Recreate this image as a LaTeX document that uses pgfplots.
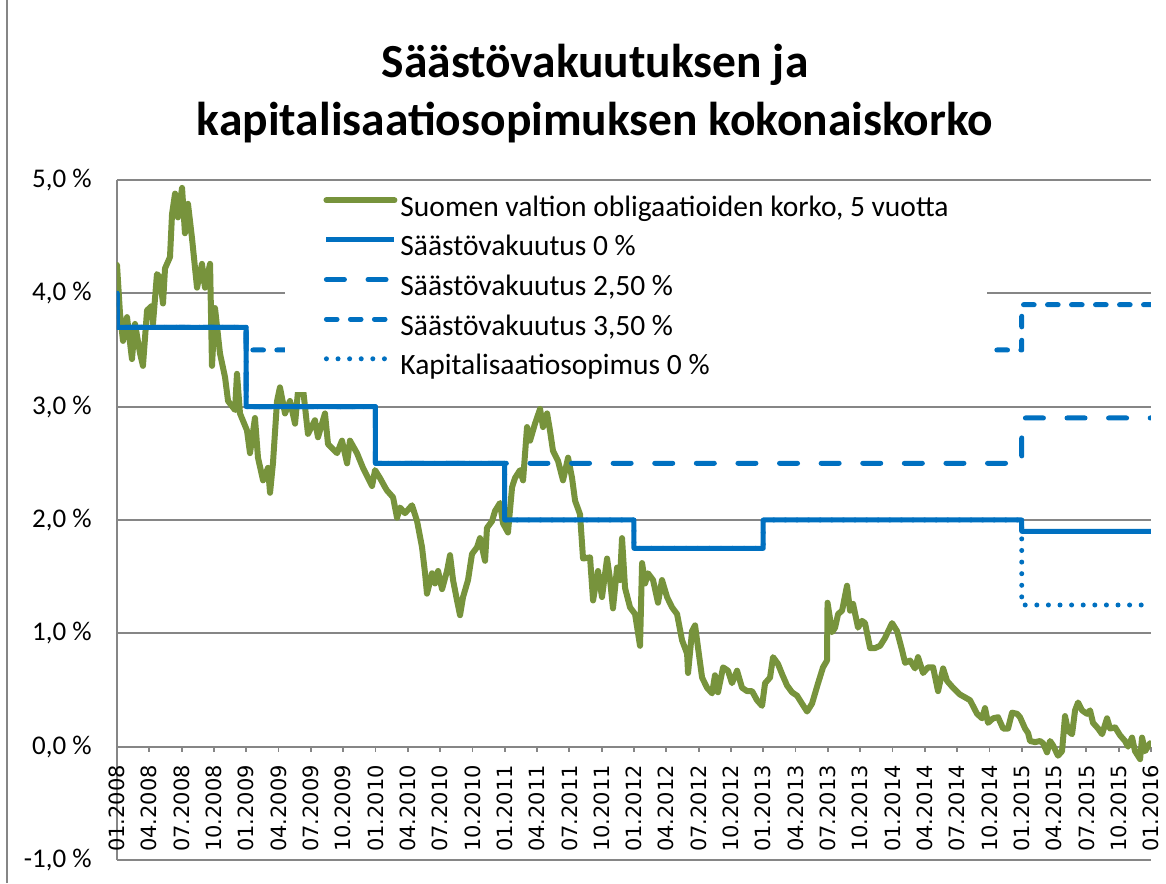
\documentclass[border=0pt]{standalone}
\usepackage{pgfplots}
\pgfplotsset{compat=1.18}
\usepackage{fontspec}
\setmainfont{Carlito}
\newfontfamily\dejavu{DejaVu Sans}
\definecolor{olivegreen}{RGB}{119,147,60}
\definecolor{xblue}{RGB}{0,112,192}
\definecolor{gridgray}{RGB}{134,134,134}

\pgfplotstableread{
m v
0 4.25
0.28 3.82
0.56 3.58
0.93 3.79
1.39 3.42
1.67 3.73
2.14 3.47
2.41 3.36
2.79 3.85
3.25 3.89
3.34 3.73
3.71 4.17
3.99 4.14
4.27 3.91
4.46 4.22
4.92 4.32
5.11 4.70
5.39 4.88
5.66 4.67
6.04 4.93
6.31 4.53
6.59 4.79
6.96 4.49
7.43 4.05
7.89 4.26
8.17 4.05
8.64 4.26
8.82 3.36
9.10 3.87
9.56 3.47
10.03 3.26
10.31 3.05
10.96 2.97
11.14 3.29
11.42 2.94
12.07 2.79
12.35 2.59
12.81 2.90
13.09 2.55
13.56 2.35
14.02 2.46
14.21 2.24
14.48 2.50
14.86 3.05
15.13 3.17
15.60 2.94
16.06 3.05
16.53 2.85
16.81 3.14
17.27 3.16
17.73 2.76
18.38 2.88
18.66 2.73
19.31 2.94
19.59 2.67
20.43 2.59
20.89 2.70
21.36 2.50
21.63 2.70
22.28 2.59
22.84 2.46
23.31 2.37
23.68 2.30
23.96 2.44
24.42 2.37
24.88 2.29
25.07 2.26
25.63 2.20
26.00 2.02
26.28 2.11
26.74 2.06
27.39 2.13
27.86 1.99
28.32 1.76
28.60 1.53
28.78 1.35
29.25 1.53
29.53 1.44
29.81 1.55
30.18 1.39
30.64 1.55
30.92 1.69
31.20 1.47
31.57 1.29
31.85 1.16
32.13 1.32
32.59 1.47
32.96 1.70
33.43 1.76
33.70 1.84
34.17 1.64
34.35 1.93
34.82 1.99
35.10 2.08
35.56 2.15
35.84 1.97
36.30 1.89
36.68 2.29
36.95 2.37
37.42 2.44
37.70 2.35
38.07 2.82
38.35 2.70
38.81 2.85
39.28 2.98
39.55 2.82
39.93 2.94
40.20 2.79
40.48 2.61
40.95 2.52
41.41 2.35
41.88 2.55
42.25 2.37
42.53 2.17
42.99 2.05
43.27 1.66
43.92 1.67
44.20 1.29
44.66 1.55
45.03 1.32
45.50 1.66
45.78 1.47
46.05 1.22
46.43 1.58
46.70 1.47
46.89 1.84
47.17 1.40
47.63 1.23
48.10 1.17
48.56 0.89
48.75 1.62
49.03 1.44
49.30 1.53
49.77 1.47
50.23 1.27
50.60 1.47
51.07 1.32
51.53 1.23
52.00 1.17
52.46 0.94
52.93 0.82
53.02 0.65
53.39 1.02
53.67 1.07
53.95 0.87
54.32 0.61
54.78 0.52
55.25 0.47
55.52 0.63
55.80 0.48
56.27 0.70
56.73 0.67
57.10 0.56
57.57 0.67
58.03 0.52
58.50 0.49
58.96 0.49
59.42 0.41
59.89 0.36
60.17 0.56
60.63 0.61
60.91 0.79
61.37 0.73
61.75 0.64
62.21 0.54
62.67 0.48
63.14 0.45
63.60 0.38
64.07 0.31
64.53 0.38
64.81 0.47
65.09 0.56
65.55 0.70
65.92 0.76
65.97 1.27
66.39 1.01
66.67 1.05
66.95 1.17
67.32 1.20
67.78 1.42
68.06 1.20
68.34 1.26
68.80 1.05
69.17 1.11
69.45 1.09
69.92 0.87
70.38 0.87
70.85 0.89
71.31 0.96
71.96 1.09
72.42 1.02
72.89 0.85
73.17 0.74
73.63 0.76
74.09 0.69
74.37 0.79
74.84 0.65
75.30 0.70
75.77 0.70
76.23 0.49
76.70 0.69
77.07 0.58
77.62 0.52
78.27 0.46
79.20 0.41
79.85 0.29
80.32 0.25
80.59 0.34
80.87 0.21
81.34 0.25
81.80 0.26
82.27 0.16
82.73 0.16
83.10 0.30
83.57 0.29
83.84 0.26
84.31 0.16
84.59 0.12
84.77 0.05
85.24 0.04
85.70 0.05
85.98 0.03
86.35 -0.05
86.63 0.05
86.91 0.01
87.37 -0.08
87.74 -0.04
88.02 0.27
88.30 0.14
88.67 0.11
88.95 0.32
89.23 0.39
89.60 0.32
90.06 0.29
90.34 0.32
90.62 0.21
91.09 0.16
91.46 0.11
91.92 0.25
92.20 0.16
92.67 0.17
93.13 0.10
93.59 0.05
93.87 0.00
94.24 0.08
94.52 -0.04
94.99 -0.11
95.17 0.08
95.45 -0.04
95.91 0.03
}\bondtable

\begin{document}
\begin{tikzpicture}
\begin{axis}[
  scale only axis, width=517pt, height=340pt,
  at={(0pt,0pt)}, anchor=south west,
  xmin=0, xmax=96, ymin=-1, ymax=5,
  axis x line=middle, axis y line=left,
  axis line style={-, draw=gridgray, line width=0.9pt},
  hide obscured x ticks=false, hide obscured y ticks=false,
  xtick={0,3,...,96},
  xticklabels={01.2008,04.2008,07.2008,10.2008,01.2009,04.2009,07.2009,10.2009,01.2010,04.2010,07.2010,10.2010,01.2011,04.2011,07.2011,10.2011,01.2012,04.2012,07.2012,10.2012,01.2013,04.2013,07.2013,10.2013,01.2014,04.2014,07.2014,10.2014,01.2015,04.2015,07.2015,10.2015,01.2016},
  ytick={-1,0,1,2,3,4,5},
  yticklabels={{-1,0 \%},{0,0 \%},{1,0 \%},{2,0 \%},{3,0 \%},{4,0 \%},{5,0 \%}},
  ymajorgrids, grid style={draw=gridgray, line width=0.9pt},
  xtick style={draw=gridgray, line width=0.9pt},
  ytick style={draw=none},
  tick align=outside, major tick length=2.5pt,
  xticklabel shift=6.5pt,
  x tick label style={rotate=90, anchor=east, font=\dejavu\fontsize{10.5}{12.5}\selectfont, inner sep=0pt},
  y tick label style={anchor=east, font=\fontsize{13.5}{15}\selectfont, inner sep=0pt, xshift=-10pt},
  legend style={at={(0.1625,0.9956)}, anchor=north west, draw=none, fill=white,
    font=\fontsize{14.75}{17}\selectfont, inner xsep=19pt, inner ysep=5.5pt,
    nodes={inner sep=0pt, text height=11pt, text depth=3pt}, row sep=5.8pt, column sep=1.5pt},
  legend cell align=left,
  legend image code/.code={\draw[#1] (0pt,4pt) -- (34pt,4pt);},
]
\addplot[draw=olivegreen, line width=3pt, line join=round, line cap=round] table[x=m, y=v] {\bondtable};
\addlegendentry{Suomen valtion obligaatioiden korko, 5 vuotta}
\addplot[draw=xblue, line width=2.5pt, line join=round] coordinates {(0,4.0) (0.05,3.7) (12,3.7) (12,3.0) (24,3.0) (24,2.5) (36,2.5) (36,2.0) (48,2.0) (48,1.75) (60,1.75) (60,2.0) (84,2.0) (84,1.9) (96,1.9)};
\addlegendentry{Säästövakuutus 0 \%}
\addplot[draw=xblue, line width=2.5pt, line join=round, line cap=round, dash pattern=on 9pt off 11.8pt] coordinates {(0,4.0) (0.05,3.7) (12,3.7) (12,3.0) (24,3.0) (24,2.5) (84,2.5) (84,2.9) (96,2.9)};
\addlegendentry{Säästövakuutus 2,50 \%}
\addplot[draw=xblue, line width=2.5pt, line join=round, line cap=round, dash pattern=on 5.3pt off 6.7pt] coordinates {(0,4.0) (0.05,3.7) (12,3.7) (12,3.5) (84,3.5) (84,3.9) (96,3.9)};
\addlegendentry{Säästövakuutus 3,50 \%}
\addplot[draw=xblue, line width=2.5pt, line join=round, line cap=round, dash pattern=on 0pt off 5.8pt] coordinates {(0,4.0) (0.05,3.7) (12,3.7) (12,3.0) (24,3.0) (24,2.5) (36,2.5) (36,2.0) (48,2.0) (48,1.75) (60,1.75) (60,2.0) (84,2.0) (84,1.25) (96,1.25)};
\addlegendentry{Kapitalisaatiosopimus 0 \%}
\end{axis}
\node[anchor=base, font=\bfseries\fontsize{23.75}{29}\selectfont] at (239pt,391pt) {Säästövakuutuksen ja};
\node[anchor=base, font=\bfseries\fontsize{23.75}{29}\selectfont] at (239pt,362pt) {kapitalisaatiosopimuksen kokonaiskorko};
\draw[gridgray, line width=0.9pt] (-55pt,-11.5pt) -- (-55pt,430pt);
\pgfresetboundingbox
\path[use as bounding box] (-58.5pt,-11.5pt) rectangle (524.5pt,430pt);
\end{tikzpicture}
\end{document}
